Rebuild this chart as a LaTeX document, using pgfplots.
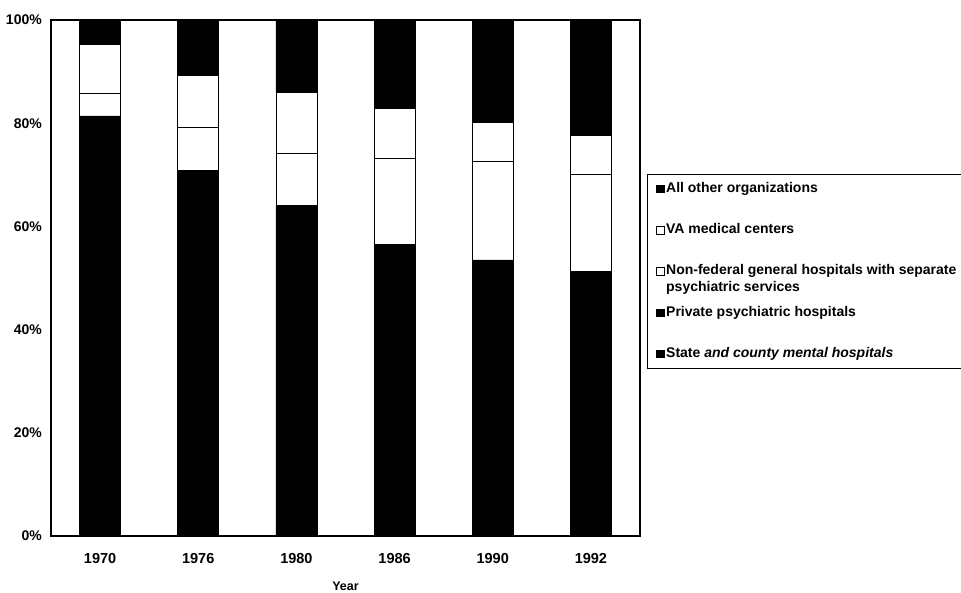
\documentclass[border=0pt]{standalone}
\usepackage{fontspec}
\setmainfont{Liberation Sans}
\usepackage{pgfplots}
\usepackage{pgfplotstable}
\pgfplotsset{compat=1.18}

% Share of inpatient beds by type of organization (percent)
\pgfplotstableread{
idx state private nonfed va other
0 78.0 3.4 4.3 9.5 4.8
1 66.3 4.6 8.2 10.2 10.7
2 57.5 6.5 10.2 11.8 14.0
3 45.5 11.0 16.6 9.7 17.2
4 37.7 15.8 19.0 7.7 19.8
5 35.6 15.6 18.8 7.7 22.3
}\beds

\begin{document}
\begin{tikzpicture}
\clip (0pt,0pt) rectangle (961pt,593pt);
\begin{axis}[
  at={(51pt,57pt)}, anchor=south west,
  scale only axis, width=589pt, height=516pt,
  ybar stacked, bar width=41pt,
  xmin=-0.5, xmax=5.5, ymin=0, ymax=100,
  xtick={0,...,5},
  xticklabels={1970,1976,1980,1986,1990,1992},
  ytick={0,20,...,100},
  yticklabel={\pgfmathprintnumber{\tick}\%},
  /pgf/number format/assume math mode=true,
  major tick length=0pt,
  axis line style={line width=1.2pt},
  xticklabel style={font=\fontsize{14.5}{16}\selectfont\bfseries, inner sep=0pt, anchor=north, yshift=-17pt},
  yticklabel style={font=\fontsize{14}{16}\selectfont\bfseries, inner sep=0pt, anchor=east, xshift=-9pt},
  xlabel={Year},
  xlabel style={font=\fontsize{12.5}{14}\selectfont\bfseries, at={(axis description cs:0.5,0)}, anchor=north, yshift=-46pt, inner sep=0pt},
  legend reversed,
  legend cell align=left,
  legend image code/.code={\draw[#1,line width=0.7pt] (0pt,-3.8pt) rectangle (7.5pt,3.8pt);},
  legend style={
    at={(rel axis cs:1.0119,0.7016)}, anchor=north west,
    draw=black, line width=0.9pt,
    inner xsep=9pt, inner ysep=8pt,
    row sep=28.25pt, column sep=0pt,
    font=\fontsize{14}{17}\selectfont\bfseries,
    nodes={text height=10pt, text depth=3pt, inner xsep=1.5pt, inner ysep=0pt},
  },
]
\addplot[fill=black, draw=black, line width=0.8pt] table[x=idx, y=state] {\beds};
\addlegendentry{State \textit{and county mental hospitals}}
\addplot[fill=black, draw=black, line width=0.8pt] table[x=idx, y=private] {\beds};
\addlegendentry{Private psychiatric hospitals}
\addplot[fill=white, draw=black, line width=0.8pt] table[x=idx, y=nonfed] {\beds};
\addlegendentry{\vtop{\hbox{Non-federal general hospitals with separate}\hbox{psychiatric services}}\hspace{20pt}}
\addplot[fill=white, draw=black, line width=0.8pt] table[x=idx, y=va] {\beds};
\addlegendentry{VA medical centers}
\addplot[fill=black, draw=black, line width=0.8pt] table[x=idx, y=other] {\beds};
\addlegendentry{All other organizations}
\end{axis}
\end{tikzpicture}
\end{document}
